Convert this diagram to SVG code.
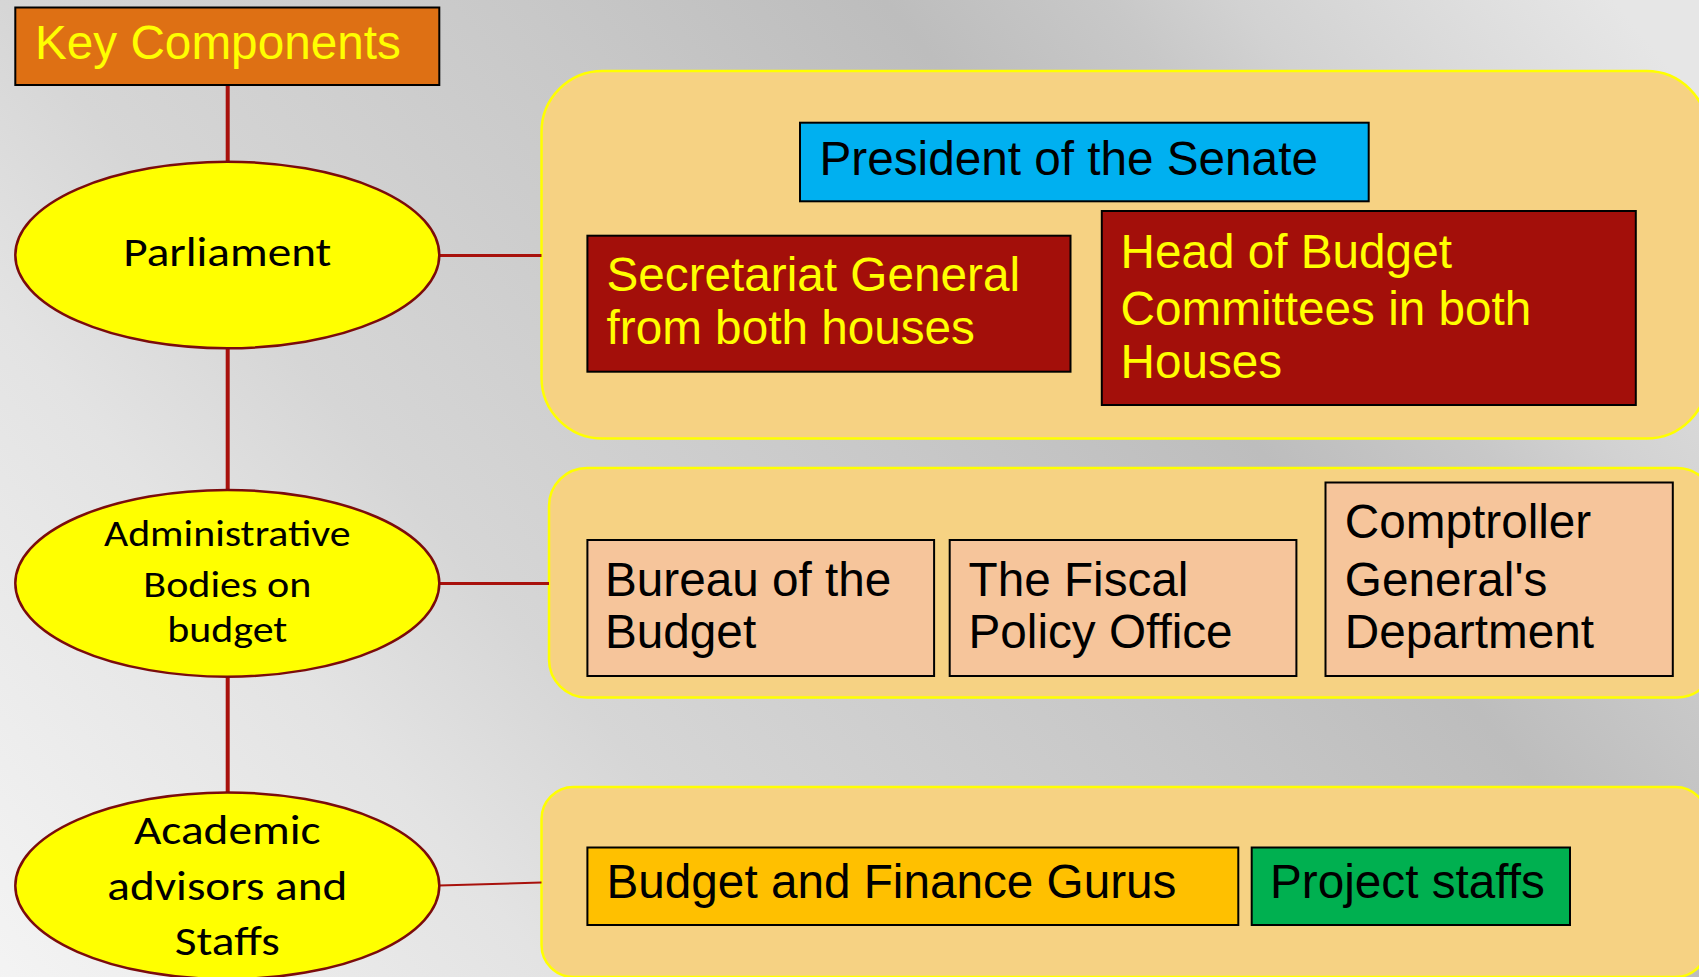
<svg xmlns="http://www.w3.org/2000/svg" width="1699" height="977" viewBox="0 0 1699 977">
  <defs>
    <linearGradient id="bg" gradientUnits="userSpaceOnUse" x1="-491.5" y1="409.6" x2="952.3" y2="-793.6">
      <stop offset="0" stop-color="#F4F4F4"/>
      <stop offset="0.234" stop-color="#E3E3E3"/>
      <stop offset="0.34" stop-color="#D6D6D6"/>
      <stop offset="0.553" stop-color="#C8C8C8"/>
      <stop offset="0.702" stop-color="#BDBDBD"/>
      <stop offset="0.793" stop-color="#C8C8C8"/>
      <stop offset="0.846" stop-color="#D2D2D2"/>
      <stop offset="1" stop-color="#E6E6E6"/>
    </linearGradient>
    <style>
      .panel { fill: #F6D283; stroke: #FFFF00; stroke-width: 2.5; }
      .oval { fill: #FFFF00; stroke: #7B0C0C; stroke-width: 2.5; }
      .box { stroke: #000000; stroke-width: 2; }
      .conn { stroke: #A8110C; fill: none; }
      .arial { font-family: "Liberation Sans", Arial, sans-serif; font-size: 47.7px; }
      .cal { font-family: Carlito, Lato, "Open Sans", sans-serif; fill: #000000; }
      .yel { fill: #FFFF00; }
      .blk { fill: #000000; }
    </style>
  </defs>

  <rect x="0" y="0" width="1699" height="977" fill="url(#bg)"/>

  <!-- Panels -->
  <g id="panel-parliament">
    <rect class="panel" x="541.5" y="71" width="1166" height="367.5" rx="61" ry="61"/>
  </g>
  <g id="panel-admin">
    <rect class="panel" x="549" y="468" width="1166" height="229.5" rx="38" ry="38"/>
  </g>
  <g id="panel-academic">
    <rect class="panel" x="541.5" y="787" width="1166" height="190" rx="32" ry="32"/>
  </g>

  <!-- Connectors -->
  <g id="connectors">
    <line class="conn" x1="227.7" y1="85" x2="227.7" y2="163" stroke-width="4"/>
    <line class="conn" x1="227.7" y1="348" x2="227.7" y2="490" stroke-width="4"/>
    <line class="conn" x1="227.7" y1="676.5" x2="227.7" y2="793" stroke-width="4"/>
    <line class="conn" x1="439" y1="255.5" x2="541.5" y2="255.5" stroke-width="3"/>
    <line class="conn" x1="439" y1="583.5" x2="549" y2="583.5" stroke-width="3"/>
    <line class="conn" x1="439" y1="885.4" x2="541.5" y2="882.6" stroke-width="2"/>
  </g>

  <!-- Left column nodes -->
  <g id="key-components">
    <rect class="box" x="15.3" y="7.5" width="424" height="77.5" fill="#DE7014"/>
    <text class="arial yel" x="35" y="59.3">Key Components</text>
  </g>
  <g id="parliament">
    <ellipse class="oval" cx="227.3" cy="255" rx="212" ry="93.3"/>
    <text class="cal" x="227.3" y="265.7" font-size="41.5" text-anchor="middle" textLength="208" lengthAdjust="spacingAndGlyphs">Parliament</text>
  </g>
  <g id="administrative">
    <ellipse class="oval" cx="227.3" cy="583.3" rx="212" ry="93.4"/>
    <text class="cal" x="227.3" y="545.7" font-size="37.5" text-anchor="middle" textLength="246.7" lengthAdjust="spacingAndGlyphs">Administrative</text>
    <text class="cal" x="227.3" y="596.7" font-size="37.5" text-anchor="middle" textLength="168" lengthAdjust="spacingAndGlyphs">Bodies on</text>
    <text class="cal" x="227.3" y="641.7" font-size="37.5" text-anchor="middle" textLength="120" lengthAdjust="spacingAndGlyphs">budget</text>
  </g>
  <g id="academic">
    <ellipse class="oval" cx="227.3" cy="885.8" rx="212" ry="93.3"/>
    <text class="cal" x="227.3" y="844.3" font-size="41.5" text-anchor="middle" textLength="186.7" lengthAdjust="spacingAndGlyphs">Academic</text>
    <text class="cal" x="227.3" y="900" font-size="41.5" text-anchor="middle" textLength="240" lengthAdjust="spacingAndGlyphs">advisors and</text>
    <text class="cal" x="227.3" y="955" font-size="41.5" text-anchor="middle" textLength="105" lengthAdjust="spacingAndGlyphs">Staffs</text>
  </g>

  <!-- Parliament panel boxes -->
  <g id="president-senate">
    <rect class="box" x="800" y="122.7" width="568.7" height="78.6" fill="#00B0F0"/>
    <text class="arial blk" x="819.5" y="175">President of the Senate</text>
  </g>
  <g id="secretariat-general">
    <rect class="box" x="587.4" y="235.7" width="483.1" height="136" fill="#A30F0A"/>
    <text class="arial yel" x="606.5" y="291">Secretariat General</text>
    <text class="arial yel" x="606.5" y="344">from both houses</text>
  </g>
  <g id="head-budget-committees">
    <rect class="box" x="1101.8" y="211" width="534" height="194" fill="#A30F0A"/>
    <text class="arial yel" x="1120.5" y="267.7">Head of Budget</text>
    <text class="arial yel" x="1120.5" y="325">Committees in both</text>
    <text class="arial yel" x="1120.5" y="378.3">Houses</text>
  </g>

  <!-- Administrative panel boxes -->
  <g id="bureau-budget">
    <rect class="box" x="587.4" y="540" width="346.7" height="136" fill="#F6C59B" stroke-width="1.6"/>
    <text class="arial blk" x="605" y="595.7">Bureau of the</text>
    <text class="arial blk" x="605" y="648.3">Budget</text>
  </g>
  <g id="fiscal-policy-office">
    <rect class="box" x="949.7" y="540" width="346.7" height="136" fill="#F6C59B" stroke-width="1.6"/>
    <text class="arial blk" x="968.5" y="595.7">The Fiscal</text>
    <text class="arial blk" x="968.5" y="648.3">Policy Office</text>
  </g>
  <g id="comptroller-general">
    <rect class="box" x="1325.5" y="482.5" width="347.3" height="193.5" fill="#F6C59B" stroke-width="1.6"/>
    <text class="arial blk" x="1344.8" y="538.3">Comptroller</text>
    <text class="arial blk" x="1344.8" y="595.7">General's</text>
    <text class="arial blk" x="1344.8" y="648.3">Department</text>
  </g>

  <!-- Academic panel boxes -->
  <g id="budget-finance-gurus">
    <rect class="box" x="587.4" y="847.5" width="650.9" height="77.5" fill="#FFC000"/>
    <text class="arial blk" x="606.5" y="898.3">Budget and Finance Gurus</text>
  </g>
  <g id="project-staffs">
    <rect class="box" x="1251.7" y="847.5" width="318.3" height="77.5" fill="#00B050"/>
    <text class="arial blk" x="1270" y="898.3">Project staffs</text>
  </g>
</svg>
